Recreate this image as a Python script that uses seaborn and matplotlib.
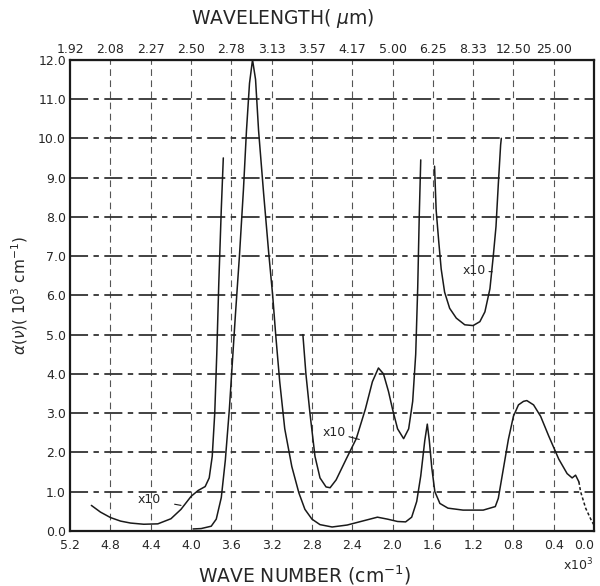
import numpy as np
import pandas as pd
import matplotlib
matplotlib.use("Agg")
import matplotlib.pyplot as plt
import seaborn as sns

# wave number (x10^3 cm-1) and alpha (10^3 cm-1)
main_wn = [3.98, 3.90, 3.80, 3.75, 3.70, 3.66, 3.62, 3.59, 3.56, 3.52, 3.48, 3.45, 3.42, 3.39,
           3.36, 3.33, 3.28, 3.23, 3.19, 3.16, 3.12, 3.07, 3.00, 2.93, 2.87, 2.80, 2.72,
           2.60, 2.45, 2.30, 2.15, 2.05, 1.95, 1.87, 1.81, 1.76, 1.72, 1.68, 1.655, 1.635,
           1.61, 1.58, 1.53, 1.45, 1.30, 1.10, 0.98, 0.95, 0.90, 0.85, 0.80, 0.75, 0.70,
           0.667, 0.60, 0.53, 0.45, 0.35, 0.267, 0.217, 0.183, 0.15]
main_a = [0.05, 0.06, 0.12, 0.30, 0.85, 1.8, 3.1, 4.3, 5.5, 7.0, 8.7, 10.2, 11.4, 12.0,
          11.5, 10.2, 8.6, 7.1, 6.0, 5.0, 3.8, 2.6, 1.64, 0.97, 0.55, 0.30, 0.16,
          0.10, 0.15, 0.25, 0.35, 0.30, 0.24, 0.23, 0.35, 0.75, 1.4, 2.3, 2.72, 2.3,
          1.6, 1.0, 0.70, 0.58, 0.53, 0.53, 0.62, 0.83, 1.58, 2.33, 2.92, 3.21, 3.30,
          3.32, 3.21, 2.92, 2.42, 1.83, 1.46, 1.35, 1.42, 1.25]
tail_wn = [0.15, 0.133, 0.083, 0.023, 0.0]
tail_a = [1.25, 1.0, 0.58, 0.25, 0.15]

# curves magnified x10
left_wn = [4.99, 4.90, 4.80, 4.70, 4.60, 4.47, 4.33, 4.20, 4.10, 4.00, 3.93, 3.86, 3.82,
           3.79, 3.765, 3.745, 3.725, 3.70, 3.68]
left_a = [0.65, 0.48, 0.34, 0.25, 0.20, 0.17, 0.18, 0.31, 0.55, 0.88, 1.03, 1.13, 1.35,
          1.9, 3.0, 4.5, 6.3, 8.2, 9.5]
mid_wn = [2.89, 2.86, 2.82, 2.77, 2.72, 2.66, 2.62, 2.56, 2.46, 2.36, 2.27, 2.20, 2.14,
          2.09, 2.04, 2.00, 1.95, 1.89, 1.84, 1.80, 1.77, 1.75, 1.735, 1.72]
mid_a = [5.0, 4.0, 3.0, 1.9, 1.35, 1.12, 1.1, 1.3, 1.83, 2.35, 3.1, 3.8, 4.15,
         4.0, 3.55, 3.1, 2.6, 2.35, 2.6, 3.3, 4.5, 6.2, 8.0, 9.45]
right_wn = [1.583, 1.567, 1.54, 1.517, 1.483, 1.433, 1.367, 1.283, 1.20, 1.133, 1.083,
            1.033, 1.00, 0.973, 0.95, 0.927, 0.92]
right_a = [9.29, 8.17, 7.33, 6.67, 6.08, 5.67, 5.42, 5.25, 5.23, 5.33, 5.58,
           6.17, 7.0, 7.75, 8.83, 9.83, 10.0]

wn_ticks = [5.2, 4.8, 4.4, 4.0, 3.6, 3.2, 2.8, 2.4, 2.0, 1.6, 1.2, 0.8, 0.4, 0.0]
wl_labels = ["1.92", "2.08", "2.27", "2.50", "2.78", "3.13", "3.57", "4.17",
             "5.00", "6.25", "8.33", "12.50", "25.00"]
a_ticks = list(range(0, 13))

sns.set_style("white")
plt.rcParams['font.family'] = ['DejaVu Sans']

fig = plt.figure(figsize=(6, 5.86), dpi=100)
ax = fig.add_axes([0.117, 0.094, 0.873, 0.804])

ink = "#1a1a1a"
for wn, a in [(main_wn, main_a), (left_wn, left_a), (mid_wn, mid_a), (right_wn, right_a)]:
    df = pd.DataFrame({"wn": wn, "a": a})
    sns.lineplot(data=df, x="wn", y="a", sort=False, estimator=None,
                 color=ink, lw=1.1, ax=ax)
df_tail = pd.DataFrame({"wn": tail_wn, "a": tail_a})
sns.lineplot(data=df_tail, x="wn", y="a", sort=False, estimator=None,
             color=ink, lw=1.1, ax=ax, linestyle=(0, (2, 1.5)))

ax.set_xlim(5.2, 0.0)
ax.set_ylim(0, 12)
ax.set_xticks(wn_ticks)
ax.set_xticklabels([f"{t:.1f}" for t in wn_ticks], fontsize=9)
ax.get_xticklabels()[-1].set_horizontalalignment("right")
ax.set_yticks(a_ticks)
ax.set_yticklabels([f"{t:.1f}" for t in a_ticks], fontsize=9)
ax.tick_params(axis="y", length=0, pad=3)
ax.tick_params(axis="x", length=0, pad=6)

for t in wn_ticks[1:-1]:
    ax.axvline(t, color="#555555", lw=0.8, ls=(0, (6, 4)), zorder=0)
for t in a_ticks[1:-1]:
    ax.axhline(t, color="#333333", lw=1.3, ls=(0, (10, 3, 3, 3)), zorder=0)

for s in ax.spines.values():
    s.set_color(ink)
    s.set_linewidth(1.6)

ax.set_xlabel("")
ax.set_ylabel(r"$\alpha$($\nu$)( 10$^3$ cm$^{-1}$)", fontsize=11, labelpad=6)
fig.text(305 / 600, 1 - 575 / 586, "WAVE NUMBER (cm$^{-1}$)", fontsize=13.5,
         ha="center", va="center")
fig.text(578 / 600, 1 - 565 / 586, r"x10$^3$", fontsize=9, ha="center", va="center")
fig.text(283 / 600, 1 - 19 / 586, "WAVELENGTH( $\\mu$m)", fontsize=13.5,
         ha="center", va="center")

top = ax.secondary_xaxis("top")
top.set_xticks(wn_ticks[:-1])
top.set_xticklabels(wl_labels, fontsize=9)
top.tick_params(length=0, pad=3)

# x10 annotations
ax.annotate("x10", xy=(4.1, 0.65), xytext=(4.42, 0.8), fontsize=9,
            ha="center", va="center",
            arrowprops=dict(arrowstyle="-", color=ink, lw=0.8, shrinkA=8, shrinkB=0))
ax.annotate("x10", xy=(2.33, 2.33), xytext=(2.58, 2.5), fontsize=9,
            ha="center", va="center",
            arrowprops=dict(arrowstyle="-", color=ink, lw=0.8, shrinkA=8, shrinkB=0))
ax.annotate("x10", xy=(1.01, 6.6), xytext=(1.19, 6.63), fontsize=9,
            ha="center", va="center",
            arrowprops=dict(arrowstyle="-", color=ink, lw=0.8, shrinkA=8, shrinkB=0))

fig.savefig("out.png", dpi=100)
